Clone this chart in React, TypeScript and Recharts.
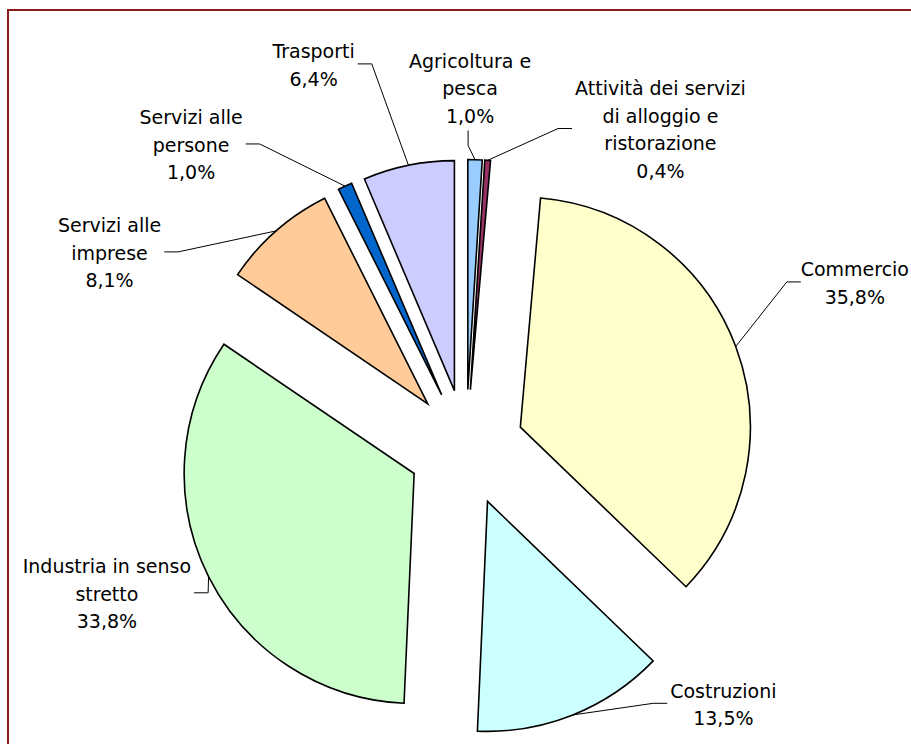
import React from 'react'
import { PieChart, Pie, Cell, Sector } from 'recharts'

const categories = [
  'Agricoltura e pesca',
  'Attività dei servizi di alloggio e ristorazione',
  'Commercio',
  'Costruzioni',
  'Industria in senso stretto',
  'Servizi alle imprese',
  'Servizi alle persone',
  'Trasporti',
]
const shares = [1.0, 0.4, 35.8, 13.5, 33.8, 8.1, 1.0, 6.4]
const labelLines = [
  ['Agricoltura e', 'pesca'],
  ['Attività dei servizi', 'di alloggio e', 'ristorazione'],
  ['Commercio'],
  ['Costruzioni'],
  ['Industria in senso', 'stretto'],
  ['Servizi alle', 'imprese'],
  ['Servizi alle', 'persone'],
  ['Trasporti'],
]
const colors = ['#99CCFF', '#993366', '#FFFFCC', '#CCFFFF', '#CCFFCC', '#FFCC99', '#0066CC', '#CCCCFF']

// where each leader line bends: clockwise angle from 12 o'clock, distance from pie centre
const leaderBends = [
  { angle: 0.4, radius: 302, side: 'top' },
  { angle: 16.1, radius: 332, side: 'right' },
  { angle: 62.7, radius: 361, side: 'right' },
  { angle: 143.8, radius: 317, side: 'right' },
  { angle: 240.6, radius: 296, side: 'left' },
  { angle: 304.2, radius: 348, side: 'left' },
  { angle: 325.8, radius: 367, side: 'left' },
  { angle: 346.2, radius: 395, side: 'left' },
]

const data = categories.map((name, i) => ({ name, value: shares[i] }))

const W = 911
const H = 744
const CX = 466
const CY = 447.5
const RADIUS = 230
const EXPLODE = 58
const RAD = Math.PI / 180
const FONT = '"DejaVu Sans", Verdana, sans-serif'
const FONT_SIZE = 19
const LINE_H = 27.5

let ctx: CanvasRenderingContext2D | null = null
function textWidth(s: string) {
  if (!ctx) ctx = document.createElement('canvas').getContext('2d')
  if (!ctx) return s.length * FONT_SIZE * 0.55
  ctx.font = `${FONT_SIZE}px ${FONT}`
  return ctx.measureText(s).width
}

const fmtPct = (v: number) => v.toFixed(1).replace('.', ',') + '%'

function ExplodedSector(props: any) {
  const { cx, cy, midAngle } = props
  const dx = EXPLODE * Math.cos(-midAngle * RAD)
  const dy = EXPLODE * Math.sin(-midAngle * RAD)
  return <Sector {...props} cx={cx + dx} cy={cy + dy} />
}

function renderLabel(props: any) {
  const { midAngle, outerRadius, index } = props
  const cx = props.cx ?? CX
  const cy = props.cy ?? CY
  const r = outerRadius + EXPLODE
  const px = cx + r * Math.cos(-midAngle * RAD)
  const py = cy + r * Math.sin(-midAngle * RAD)
  const bend = leaderBends[index]
  const ex = cx + bend.radius * Math.sin(bend.angle * RAD)
  const ey = cy - bend.radius * Math.cos(bend.angle * RAD)
  const lines = [...labelLines[index], fmtPct(shares[index])]
  const w = Math.max(...lines.map(textWidth))
  let tx = ex
  let ty = ey
  let textX = ex
  let firstY = ey
  if (bend.side === 'top') {
    ty = ey - 15
    textX = tx + 2
    firstY = ty - 15 - (lines.length - 1) * LINE_H
  } else {
    const dir = bend.side === 'right' ? 1 : -1
    tx = ex + dir * 14
    textX = tx + dir * (w / 2 + 3)
    firstY = ty + 1 - ((lines.length - 1) * LINE_H) / 2
  }
  // keep the text inside the frame
  textX = Math.min(textX, W - 2 - w / 2)
  return (
    <g key={`lab-${index}`}>
      <polyline
        points={`${px},${py} ${ex},${ey} ${tx},${ty}`}
        fill="none"
        stroke="#000"
        strokeWidth={1}
      />
      {lines.map((ln, i) => (
        <text
          key={i}
          x={textX}
          y={firstY + i * LINE_H}
          textAnchor="middle"
          dominantBaseline="central"
          fontFamily={FONT}
          fontSize={FONT_SIZE}
          fill="#000"
        >
          {ln}
        </text>
      ))}
    </g>
  )
}

export default function App() {
  return (
    <div style={{ position: 'absolute', left: 0, top: 0, width: W, height: H, overflow: 'hidden', background: '#fff' }}>
      <div
        style={{
          position: 'absolute',
          left: 7,
          top: 9,
          width: 930,
          height: 780,
          border: '2px solid #8B1A1A',
        }}
      />
      <div style={{ position: 'absolute', left: 0, top: 0 }}>
        <PieChart width={W} height={H} margin={{ top: 0, right: 0, bottom: 0, left: 0 }}>
          <Pie
            data={data}
            dataKey="value"
            nameKey="name"
            cx={CX}
            cy={CY}
            outerRadius={RADIUS}
            startAngle={90}
            endAngle={-270}
            stroke="#000"
            strokeWidth={1.6}
            isAnimationActive={false}
            labelLine={false}
            label={renderLabel}
            shape={ExplodedSector}
            activeShape={ExplodedSector}
            inactiveShape={ExplodedSector}
          >
            {data.map((d, i) => (
              <Cell key={d.name} fill={colors[i]} />
            ))}
          </Pie>
        </PieChart>
      </div>
    </div>
  )
}
